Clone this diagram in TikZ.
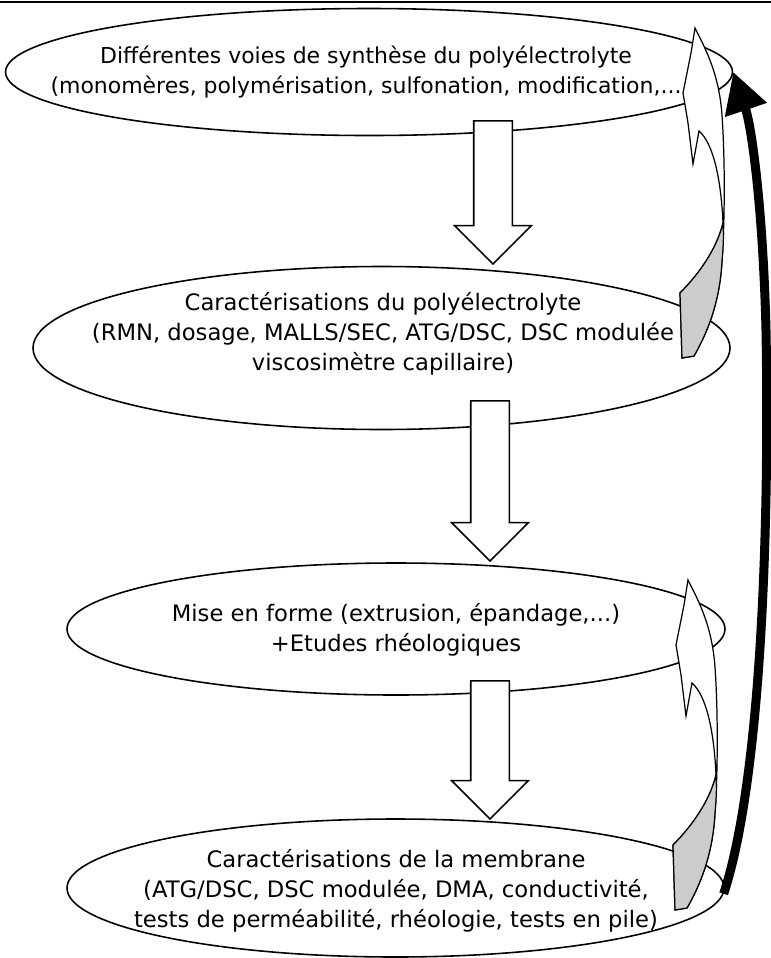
\documentclass[tikz,border=0pt]{standalone}
\usepackage{fontspec}
\setmainfont{DejaVu Sans}
\usepackage{tikz}
\usetikzlibrary{shapes,arrows.meta,positioning}
\definecolor{grisombre}{RGB}{204,204,204}
\newdimen\pxu
\pxu=0.02cm

\tikzset{
    remontee/.pic={
        % face blanche + ombre grise
        \filldraw[fill=white, line width=0.7pt] (0,0) .. controls (10,20) and (24,45) .. (27,87) .. controls (30,130) and (30,190) .. (27,233) .. controls (25,270) and (15,300) .. (-1,328) -- (-13,330) -- (-15,265) .. controls (5,245) and (22,220) .. (28,195) .. controls (26,150) and (18,115) .. (4,103) -- (-2,136) -- (-7,95) -- (-12,65) -- (-9,50) -- (-4,25) -- cycle;
        \filldraw[fill=grisombre, line width=0.7pt] (-15,265) .. controls (5,245) and (22,220) .. (28,195) .. controls (29,210) and (28,222) .. (27,233) .. controls (25,270) and (15,300) .. (-1,328) -- (-13,330) -- cycle;
    }
}

\begin{document}
\begin{tikzpicture}[
    x=0.02cm, y=-0.02cm,
    every node/.style={align=center},
    bulle/.style={ellipse, draw=black, fill=white, line width=0.9pt, inner sep=0pt},
    texte/.style={font=\fontsize{12.9}{17}\selectfont, inner sep=0pt},
    bloc/.style={single arrow, draw=black, fill=white, line width=0.9pt, rotate=-90, anchor=tip,
        inner xsep=0pt, inner ysep=18.5\pxu, single arrow head extend=19\pxu, single arrow head indent=0pt},
    retour/.style={line width=9\pxu, -{Triangle[length=0.8cm, width=0.84cm]}}
]
\useasboundingbox (0,0) rectangle (771,958);

% trait du haut
\draw[line width=2\pxu] (0,1.5) -- (771,1.5);

% les quatre etapes
\node[bulle, minimum width=727\pxu, minimum height=127\pxu] (e1) at (369,72) {};
\node[texte, font=\fontsize{12.5}{17}\selectfont] (t1) at (366,72) {Différentes voies de synthèse du polyélectrolyte\\(monomères, polymérisation, sulfonation, modification,...};

\node[bulle, minimum width=697\pxu, minimum height=163\pxu] (e2) at (381.5,348) {};
\node[texte] (t2) at (383,334) {Caractérisations du polyélectrolyte\\(RMN, dosage, MALLS/SEC, ATG/DSC, DSC modulée\\viscosimètre capillaire)};

\node[bulle, minimum width=658\pxu, minimum height=132\pxu] (e3) at (396,629) {};
\node[texte] (t3) at (396,630) {Mise en forme (extrusion, épandage,...)\\+Etudes rhéologiques};

\node[bulle, minimum width=657\pxu, minimum height=138\pxu] (e4) at (395.5,888) {};
\node[texte] (t4) at (396,891) {Caractérisations de la membrane\\(ATG/DSC, DSC modulée, DMA, conductivité,\\tests de perméabilité, rhéologie, tests en pile)};

% fleches entre etapes
\node[bloc, minimum height=143\pxu] (f1) at (493,265) {};
\node[bloc, minimum height=160\pxu] (f2) at (490,562) {};
\node[bloc, minimum height=138\pxu] (f3) at (490,820) {};

% retours courbes
\pic at (695,28) {remontee};
\pic at (688,580) {remontee};

% boucle globale
\draw[retour] (e4.-1) .. controls (758,790) and (770,560) .. (766,330) .. controls (763,210) and (752,128) .. (e1.east);

\end{tikzpicture}
\end{document}
